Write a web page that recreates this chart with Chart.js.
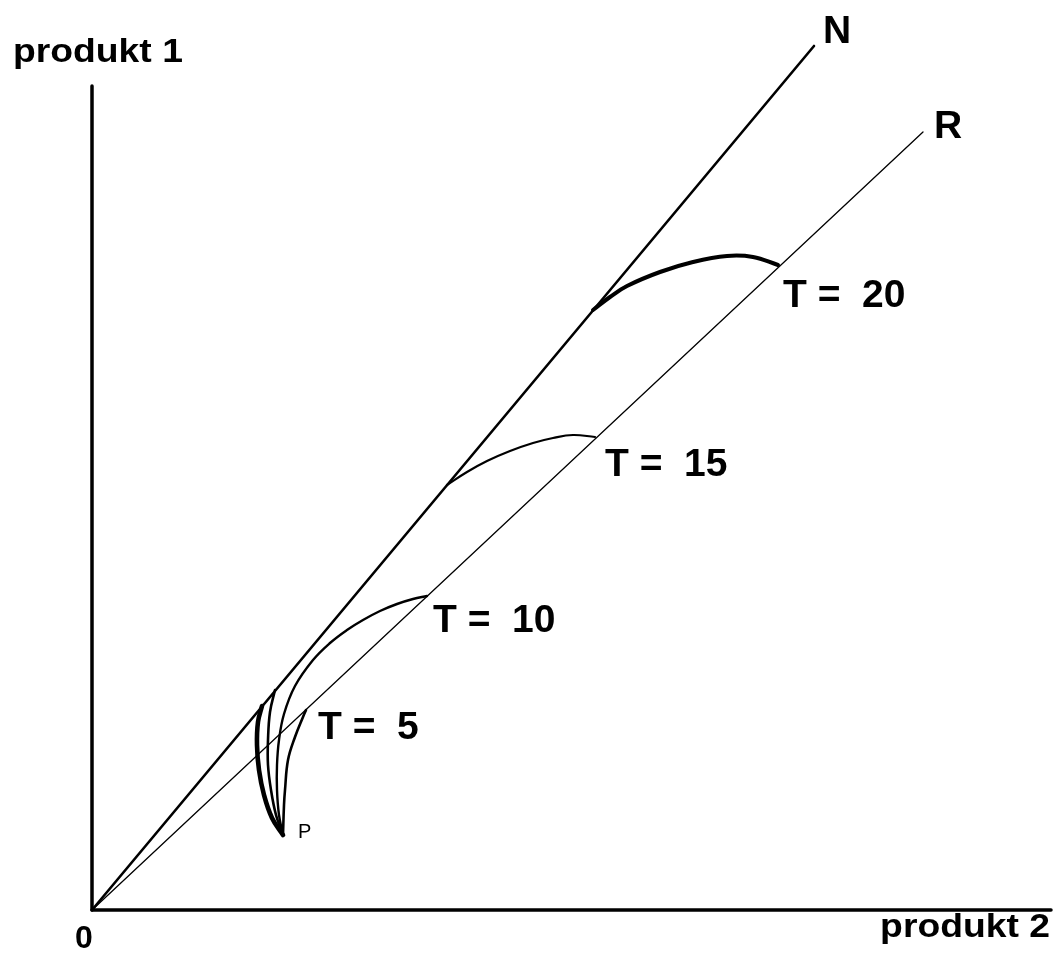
<!DOCTYPE html>
<html>
<head>
<meta charset="utf-8">
<script src="https://cdn.jsdelivr.net/npm/chart.js@4.4.1/dist/chart.umd.min.js"></script>
<style>
  body { margin: 0; background: #fff; }
  #caja { width: 1058px; height: 955px; }
</style>
</head>
<body>
<div id="caja"><canvas id="grafico"></canvas></div>
<script>
// limites de los ejes (unidades arbitrarias)
const ejeX = [0, 95.9]
const ejeY = [0, 82.4]

// rectas N y R desde el origen
const rectaN = [[0, 0], [72.2, 86.4]]
const rectaR = [[0, 0], [83.1, 77.8]]

// trayectorias desde P
const tray5 = [[19.1, 7.5], [19.2, 10.5], [19.3, 12.0], [19.6, 15.0], [20.3, 17.3], [21.1, 19.3], [21.4, 20.0]]
const tray10 = [[19.1, 7.5], [18.7, 9.5], [18.5, 12.0], [18.5, 14.5], [18.7, 17.0], [19.2, 19.6],
  [20.3, 22.4], [22.1, 25.0], [23.8, 26.7], [25.5, 28.0], [27.1, 29.0], [28.8, 29.9], [30.5, 30.6], [32.1, 31.1], [33.5, 31.4]]
const tray15a = [[19.1, 7.5], [18.4, 9.5], [17.9, 12.0], [17.6, 14.5], [17.6, 17.0], [17.8, 19.8], [18.3, 22.0]]
const tray15b = [[35.5, 42.5], [37.5, 43.8], [39.5, 44.9], [41.8, 45.9], [44.1, 46.7], [46.1, 47.2], [48.1, 47.5], [50.3, 47.3]]
const tray20a = [[19.1, 7.5], [18.0, 9.2], [17.2, 11.5], [16.7, 14.0], [16.5, 16.5], [16.6, 18.8], [17.0, 20.4]]
const tray20b = [[50.1, 60.0], [51.8, 61.3], [53.5, 62.4], [56.8, 63.8], [60.1, 64.8], [63.5, 65.4], [66.1, 65.3], [68.6, 64.5]]

// etiquetas
const textos = ['T =  20', 'T =  15', 'T =  10', 'T =  5', 'N', 'R']
const posTextos = [[69.1, 60.3], [51.3, 43.4], [34.1, 27.8], [22.6, 17.1], [73.1, 86.7], [84.2, 77.2]]
const puntoP = [20.6, 7.2]

function pts(lista) {
  return lista.map(p => ({ x: p[0], y: p[1] }))
}

function serie(lista, ancho, tension) {
  return {
    data: pts(lista),
    showLine: true,
    borderColor: '#000',
    borderWidth: ancho,
    pointRadius: 0,
    tension: tension,
    clip: false,
    borderCapStyle: 'round',
    borderJoinStyle: 'round'
  }
}

const textosPlugin = {
  id: 'textos',
  afterDatasetsDraw(chart) {
    const ctx = chart.ctx
    const sx = chart.scales.x
    const sy = chart.scales.y
    const area = chart.chartArea
    ctx.save()
    ctx.fillStyle = '#000'
    ctx.textBaseline = 'alphabetic'

    ctx.font = 'bold 39px "Liberation Sans", Arial, sans-serif'
    textos.forEach((t, i) => {
      ctx.textAlign = 'left'
      ctx.fillText(t, sx.getPixelForValue(posTextos[i][0]), sy.getPixelForValue(posTextos[i][1]))
    })

    ctx.font = '20px "Liberation Sans", Arial, sans-serif'
    ctx.fillText('P', sx.getPixelForValue(puntoP[0]), sy.getPixelForValue(puntoP[1]))

    // nombres de los ejes, algo estirados a lo ancho
    ctx.font = 'bold 33px "Liberation Sans", Arial, sans-serif'
    ctx.save()
    ctx.translate(13, area.top - 24)
    ctx.scale(1.13, 1)
    ctx.fillText('produkt 1', 0, 0)
    ctx.restore()

    ctx.save()
    ctx.translate(area.right - 1, area.bottom + 27)
    ctx.scale(1.13, 1)
    ctx.textAlign = 'right'
    ctx.fillText('produkt 2', 0, 0)
    ctx.restore()

    ctx.font = 'bold 32px "Liberation Sans", Arial, sans-serif'
    ctx.textAlign = 'left'
    ctx.fillText('0', area.left - 17, area.bottom + 38)
    ctx.restore()
  }
}

new Chart(document.getElementById('grafico'), {
  type: 'scatter',
  data: {
    datasets: [
      serie([[ejeX[0], 0], [ejeX[1], 0]], 3.5, 0),
      serie([[0, ejeY[0]], [0, ejeY[1]]], 3.5, 0),
      serie(rectaN, 2.6, 0),
      serie(rectaR, 1.3, 0),
      serie(tray5, 2.6, 0.4),
      serie(tray10, 2.4, 0.4),
      serie(tray15a, 2.6, 0.4),
      serie(tray15b, 2.2, 0.4),
      serie(tray20a, 4.6, 0.4),
      serie(tray20b, 4.0, 0.4)
    ]
  },
  options: {
    responsive: true,
    maintainAspectRatio: false,
    animation: false,
    layout: { padding: { left: 92, top: 86, right: 7, bottom: 45 } },
    plugins: { legend: { display: false }, tooltip: { enabled: false } },
    scales: {
      x: { type: 'linear', min: ejeX[0], max: ejeX[1], display: false },
      y: { type: 'linear', min: ejeY[0], max: ejeY[1], display: false }
    }
  },
  plugins: [textosPlugin]
})
</script>
</body>
</html>
